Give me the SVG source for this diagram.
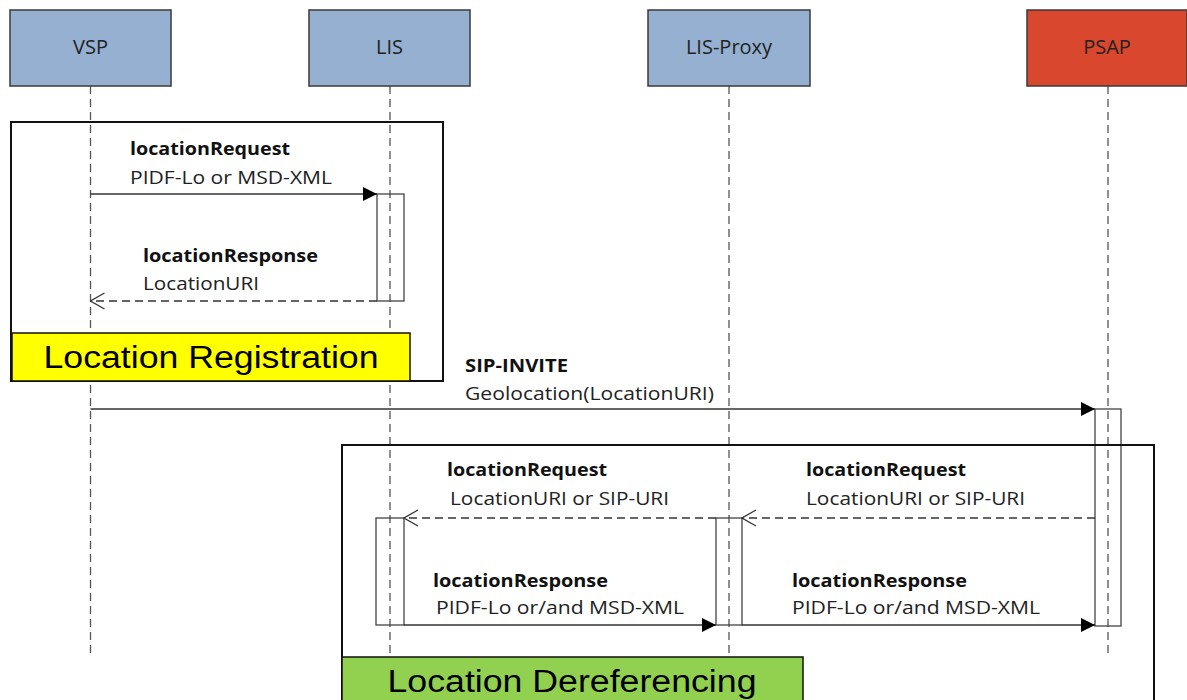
<svg xmlns="http://www.w3.org/2000/svg" width="1187" height="700" viewBox="0 0 1187 700">
<style>
.hdr{stroke:#3a3a3a;stroke-width:1.5}
.blue{fill:#95b0d0}
.red{fill:#d9472f}
.ht{font-family:"Open Sans","Noto Sans",sans-serif;font-size:20px;fill:#222;text-anchor:middle}
.life{stroke:#555;stroke-width:1.3;stroke-dasharray:8 5;fill:none}
.frame{fill:none;stroke:#111;stroke-width:2}
.act{fill:none;stroke:#444;stroke-width:1.3}
.msg{stroke:#333;stroke-width:1.3;fill:none}
.dash{stroke-dasharray:8 5}
.b{font-family:"Open Sans","Noto Sans",sans-serif;font-size:18px;font-weight:bold;fill:#111}
.r{font-family:"Open Sans","Noto Sans",sans-serif;font-size:18px;fill:#222}
.big{font-family:"Liberation Sans",Arial,sans-serif;font-size:31px;fill:#000;text-anchor:middle}
</style>
<defs>
<marker id="fill" markerWidth="15" markerHeight="14" refX="14" refY="7" orient="auto" markerUnits="userSpaceOnUse">
<path d="M0,0 L14,7 L0,14 Z" fill="#000"/>
</marker>
<marker id="open" markerWidth="16" markerHeight="18" refX="15" refY="9" orient="auto" markerUnits="userSpaceOnUse">
<path d="M1,1 L15,9 L1,17" fill="none" stroke="#333" stroke-width="1.3"/>
</marker>
</defs>

<g id="lifelines">
<line class="life" x1="90.5" y1="86" x2="90.5" y2="658"/>
<line class="life" x1="390" y1="86" x2="390" y2="658"/>
<line class="life" x1="729" y1="86" x2="729" y2="658"/>
<line class="life" x1="1108" y1="86" x2="1108" y2="658"/>
</g>

<g id="node-vsp"><rect class="hdr blue" x="10" y="10" width="161" height="76"/><text class="ht" x="90.5" y="54">VSP</text></g>
<g id="node-lis"><rect class="hdr blue" x="309" y="10" width="161" height="76"/><text class="ht" x="389.5" y="54">LIS</text></g>
<g id="node-lisproxy"><rect class="hdr blue" x="648" y="10" width="162" height="76"/><text class="ht" x="729" y="54">LIS-Proxy</text></g>
<g id="node-psap"><rect class="hdr red" x="1027" y="10" width="160" height="76"/><text class="ht" x="1107" y="54">PSAP</text></g>

<g id="activations">
<rect class="act" x="377" y="194" width="27" height="107"/>
<rect class="act" x="1095" y="409" width="26" height="217"/>
<rect class="act" x="376" y="518" width="28" height="107"/>
<rect class="act" x="716" y="518" width="26" height="107"/>
</g>

<g id="frame-registration">
<rect class="frame" x="11" y="122" width="432" height="259"/>
<rect x="12" y="333" width="398" height="48" fill="#ffff00" stroke="#111" stroke-width="1.5"/>
<text class="big" x="211" y="368" textLength="335" lengthAdjust="spacingAndGlyphs">Location Registration</text>
</g>

<g id="frame-dereferencing">
<rect class="frame" x="342" y="445" width="812" height="270"/>
<rect x="342" y="657" width="461" height="60" fill="#92d050" stroke="#111" stroke-width="1.5"/>
<text class="big" x="572" y="692" textLength="369" lengthAdjust="spacingAndGlyphs">Location Dereferencing</text>
</g>

<g id="connectors">
<line class="msg" x1="90.5" y1="194" x2="377" y2="194" marker-end="url(#fill)"/>
<line class="msg dash" x1="377" y1="301" x2="90.5" y2="301" marker-end="url(#open)"/>
<line class="msg" x1="90.5" y1="409" x2="1095" y2="409" marker-end="url(#fill)"/>
<line class="msg dash" x1="1095" y1="518" x2="742" y2="518" marker-end="url(#open)"/>
<line class="msg dash" x1="716" y1="518" x2="404" y2="518" marker-end="url(#open)"/>
<line class="msg" x1="404" y1="625" x2="716" y2="625" marker-end="url(#fill)"/>
<line class="msg" x1="742" y1="625" x2="1095" y2="625" marker-end="url(#fill)"/>
</g>

<g id="labels">
<text class="b" x="130" y="155" textLength="160" lengthAdjust="spacingAndGlyphs">locationRequest</text>
<text class="r" x="130" y="184" textLength="202" lengthAdjust="spacingAndGlyphs">PIDF-Lo or MSD-XML</text>
<text class="b" x="143" y="262" textLength="175" lengthAdjust="spacingAndGlyphs">locationResponse</text>
<text class="r" x="143" y="290" textLength="116" lengthAdjust="spacingAndGlyphs">LocationURI</text>
<text class="b" x="465" y="372" textLength="103" lengthAdjust="spacingAndGlyphs">SIP-INVITE</text>
<text class="r" x="465" y="400" textLength="249" lengthAdjust="spacingAndGlyphs">Geolocation(LocationURI)</text>
<text class="b" x="447" y="476" textLength="160" lengthAdjust="spacingAndGlyphs">locationRequest</text>
<text class="r" x="450" y="505" textLength="219" lengthAdjust="spacingAndGlyphs">LocationURI or SIP-URI</text>
<text class="b" x="806" y="476" textLength="160" lengthAdjust="spacingAndGlyphs">locationRequest</text>
<text class="r" x="806" y="505" textLength="219" lengthAdjust="spacingAndGlyphs">LocationURI or SIP-URI</text>
<text class="b" x="433" y="587" textLength="175" lengthAdjust="spacingAndGlyphs">locationResponse</text>
<text class="r" x="436" y="614" textLength="248" lengthAdjust="spacingAndGlyphs">PIDF-Lo or/and MSD-XML</text>
<text class="b" x="792" y="587" textLength="175" lengthAdjust="spacingAndGlyphs">locationResponse</text>
<text class="r" x="792" y="614" textLength="248" lengthAdjust="spacingAndGlyphs">PIDF-Lo or/and MSD-XML</text>
</g>
</svg>
